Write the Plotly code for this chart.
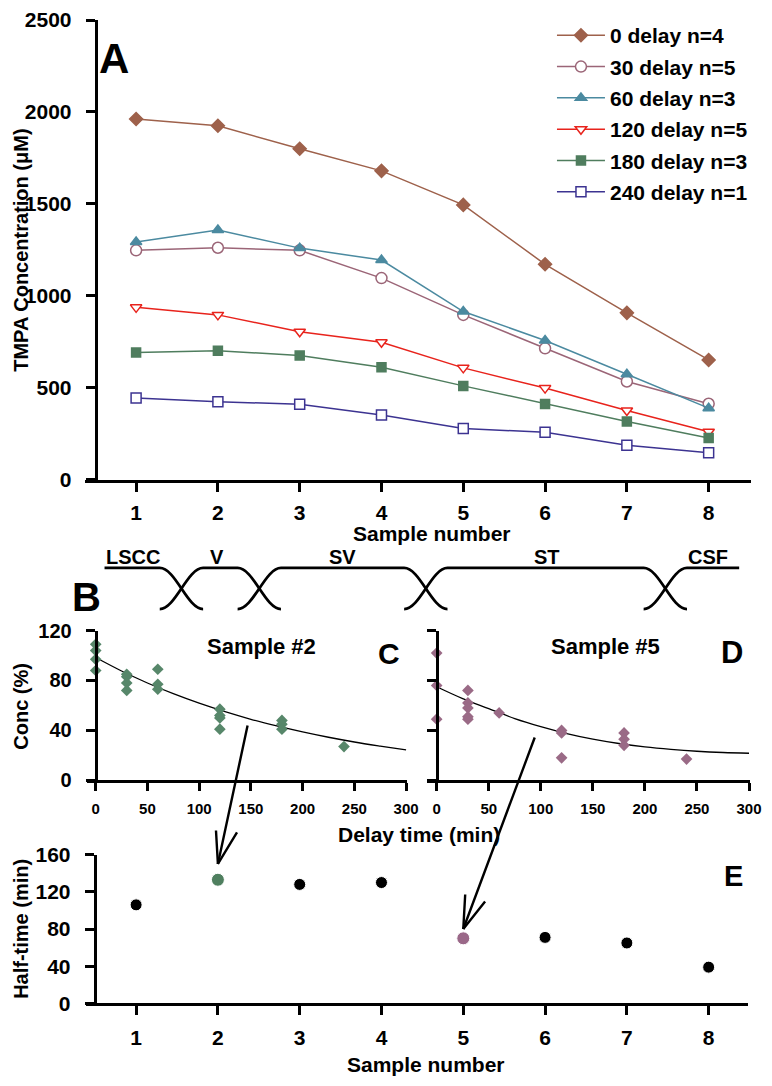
import plotly.graph_objects as go

# ---------------- data ----------------
samples = [1, 2, 3, 4, 5, 6, 7, 8]
series_names = ["0 delay n=4", "30 delay n=5", "60 delay n=3",
                "120 delay n=5", "180 delay n=3", "240 delay n=1"]
conc_0 = [1962, 1925, 1800, 1680, 1495, 1172, 908, 652]
conc_30 = [1248, 1262, 1248, 1097, 897, 715, 535, 414]
conc_60 = [1293, 1358, 1260, 1195, 915, 758, 574, 390]
conc_120 = [938, 897, 805, 748, 609, 499, 377, 262]
conc_180 = [692, 702, 676, 612, 511, 413, 318, 228]
conc_240 = [445, 425, 411, 353, 279, 259, 188, 148]

c_time = [0, 0, 0, 0, 30, 30, 30, 30, 60, 60, 60, 120, 120, 120, 120, 180, 180, 180, 240]
c_conc = [109, 104, 97, 88, 85, 83, 78, 72, 89, 77, 73, 57, 52, 50, 41, 48, 45, 41, 27]
d_time = [0, 0, 0, 30, 30, 30, 30, 30, 60, 120, 120, 120, 180, 180, 180, 240]
d_conc = [102, 76, 49, 72, 62, 58, 51, 49, 54, 40, 38, 18, 38, 33, 28, 17]

fit_time = [0, 25, 50, 75, 100, 125, 150, 175, 200, 225, 250, 275, 300]
fit_c = [98.4, 87.6, 78.0, 69.4, 61.8, 55.0, 48.9, 43.6, 38.8, 34.5, 30.7, 27.4, 24.3]
fit_d = [75.0, 65.5, 57.5, 49.5, 43.0, 37.5, 33.0, 29.5, 26.8, 24.8, 23.3, 22.3, 21.7]

half_time = [106, 133, 128, 130, 70, 71, 65, 39]

regions = ["LSCC", "V", "SV", "ST", "CSF"]
region_label_x = [0.96, 1.99, 3.52, 6.02, 7.99]
region_bounds = [1.554, 2.506, 4.542, 7.47]
region_extent = [0.614, 8.373]

# ---------------- style ----------------
W, H = 772, 1086
OFF = 8                      # page body margin of the html page
FW, FH = W - 2 * OFF, H - 2 * OFF
FONT = "Liberation Sans, Arial, sans-serif"


def fx(p):
    return (p - OFF) / FW


def fy(p):
    return 1 - (p - OFF) / FH


colors = ["#9E614B", "#9B6577", "#4B8AA0", "#E8231C", "#4F7D5E", "#3C3391"]
symbols = ["diamond", "circle", "triangle-up", "triangle-down", "square", "square"]
filled = [True, False, True, False, True, False]
sizes = [10, 11, 10, 10, 9, 10]
all_conc = [conc_0, conc_30, conc_60, conc_120, conc_180, conc_240]

fig = go.Figure()

for name, vals, col, sym, fil, sz in zip(series_names, all_conc, colors, symbols, filled, sizes):
    fig.add_trace(go.Scatter(
        x=samples, y=vals, name=name, mode="lines+markers",
        line=dict(color=col, width=1.5),
        marker=dict(symbol=sym, size=sz, color=col if fil else "white",
                    line=dict(color=col, width=1.5)),
        xaxis="x", yaxis="y", legendgroup=name,
    ))

green_d = "#57876A"
pink_d = "#9A6A86"
fig.add_trace(go.Scatter(x=fit_time, y=fit_c, mode="lines", line=dict(color="black", width=1.3, shape="spline"),
                         xaxis="x2", yaxis="y2", showlegend=False))
fig.add_trace(go.Scatter(x=c_time, y=c_conc, mode="markers",
                         marker=dict(symbol="diamond", size=9, color=green_d),
                         xaxis="x2", yaxis="y2", showlegend=False))
fig.add_trace(go.Scatter(x=fit_time, y=fit_d, mode="lines", line=dict(color="black", width=1.3, shape="spline"),
                         xaxis="x3", yaxis="y3", showlegend=False))
fig.add_trace(go.Scatter(x=d_time, y=d_conc, mode="markers",
                         marker=dict(symbol="diamond", size=9, color=pink_d),
                         xaxis="x3", yaxis="y3", showlegend=False))

e_colors = ["black"] * len(samples)
e_sizes = [12] * len(samples)
e_colors[1] = "#4F7F5F"
e_colors[4] = "#9A6888"
e_sizes[1] = 13
e_sizes[4] = 13
fig.add_trace(go.Scatter(x=samples, y=half_time, mode="markers",
                         marker=dict(symbol="circle", size=e_sizes, color=e_colors, opacity=1),
                         xaxis="x4", yaxis="y4", showlegend=False))

# ---------------- axes ----------------
tickfont = dict(family=FONT, size=21, color="black", weight="bold")
base = dict(showline=True, linewidth=3, linecolor="black", ticks="outside", ticklen=9,
            tickwidth=3, tickcolor="black", showgrid=False, zeroline=False, tickfont=tickfont)

xa_range = [1 - (138 - 86) / 83, 8 + (762 - 719) / 83]
fig.update_layout(
    xaxis=dict(base, domain=[fx(86), fx(762)], range=xa_range, anchor="y",
               tickvals=samples, ticklabelstandoff=3),
    yaxis=dict(base, domain=[fy(478), fy(8)], range=[0, 2500], anchor="free", position=fx(97),
               tickvals=[0, 500, 1000, 1500, 2000, 2500], ticklabelstandoff=10),
    xaxis2=dict(base, domain=[fx(88), fx(413)], range=[-(97 - 88) / 1.05, 301], anchor="y2",
                tickvals=[0, 50, 100, 150, 200, 250, 300], ticklen=8,
                tickfont=dict(tickfont, size=15), ticklabelstandoff=5),
    yaxis2=dict(base, domain=[fy(785), fy(632)], range=[0, 120], anchor="free", position=fx(97),
                tickvals=[0, 40, 80, 120], ticklabelstandoff=10, tickfont=dict(tickfont, size=20)),
    xaxis3=dict(base, domain=[fx(433), fx(761)], range=[-(443 - 433) / 1.0567, 301], anchor="y3",
                tickvals=[0, 50, 100, 150, 200, 250, 300], ticklen=8,
                tickfont=dict(tickfont, size=15), ticklabelstandoff=5),
    yaxis3=dict(base, domain=[fy(785), fy(632)], range=[0, 120], anchor="free", position=fx(443),
                tickvals=[0, 40, 80, 120], showticklabels=False),
    xaxis4=dict(base, domain=[fx(87), fx(759)], range=[1 - (138 - 87) / 83, 8 + (759 - 719) / 83],
                anchor="y4", tickvals=samples, ticklabelstandoff=4),
    yaxis4=dict(base, domain=[fy(1013), fy(861)], range=[0, 160], anchor="free", position=fx(96),
                tickvals=[0, 40, 80, 120, 160], ticklabelstandoff=10),
    xaxis5=dict(domain=[fx(86), fx(762)], range=xa_range, visible=False, anchor="y5"),
    yaxis5=dict(domain=[fy(620), fy(540)], range=[620, 540], visible=False, anchor="x5"),
)

# ---------------- schematic (panel B) ----------------
TOP, BOT = 568, 610
hw = 22 / 83
cw = 6 / 83
for i in range(len(regions)):
    if i == 0:
        p = f"M{region_extent[0]},{TOP}"
    else:
        b = region_bounds[i - 1]
        p = f"M{b - hw},{BOT} C{b - cw},{BOT} {b + cw},{TOP} {b + hw},{TOP}"
    if i < len(region_bounds):
        b = region_bounds[i]
        p += f" L{b - hw},{TOP} C{b - cw},{TOP} {b + cw},{BOT} {b + hw},{BOT}"
    else:
        p += f" L{region_extent[1]},{TOP}"
    fig.add_shape(type="path", path=p, xref="x5", yref="y5",
                  line=dict(color="black", width=2.8))

annotations = []


def txt(text, x, y, size, xref="paper", yref="paper", angle=0, xanchor="center"):
    annotations.append(dict(text=text, x=x, y=y, xref=xref, yref=yref, showarrow=False,
                            textangle=angle, xanchor=xanchor, yanchor="middle",
                            font=dict(family=FONT, size=size, color="black", weight="bold")))


for lab, lx in zip(regions, region_label_x):
    txt(lab, lx, 557, 20, xref="x5", yref="y5")

# titles
txt("TMPA Concentration (μM)", fx(21), fy(243), 20, angle=-90)
txt("Sample number", fx(438), fy(533), 21)
txt("Conc (%)", fx(21), fy(709), 20, angle=-90)
txt("Delay time (min)", fx(425), fy(840), 21)
txt("Half-time (min)", fx(21), fy(937), 20, angle=-90)
txt("Sample number", fx(432), fy(1075), 21)
txt("Sample #2", fx(265), fy(648), 22)
txt("Sample #5", fx(614), fy(648), 22)
# panel letters
txt("A", fx(116), fy(47), 42)
txt("B", fx(88), fy(598), 40)
txt("C", fx(395), fy(655), 30)
txt("D", fx(743), fy(654), 31)
txt("E", fx(744), fy(883), 29)

# arrows (tip in panel E data units, tail/arms in pixel offsets)
arrows = [
    dict(x=2, y=150, tail=(30, -140), arms=[(-2, -35), (20, -33)]),
    dict(x=5, y=80, tail=(72, -193), arms=[(2, -36), (23, -29)]),
]
for a in arrows:
    for (ax, ay) in [a["tail"]] + a["arms"]:
        annotations.append(dict(text="", x=a["x"], y=a["y"], xref="x4", yref="y4",
                                ax=ax, ay=ay, axref="pixel", ayref="pixel",
                                showarrow=True, arrowhead=0, arrowwidth=2.4,
                                arrowcolor="black", standoff=0, startstandoff=0))

fig.update_layout(
    width=FW, height=FH, margin=dict(l=0, r=0, t=0, b=0),
    paper_bgcolor="white", plot_bgcolor="rgba(0,0,0,0)",
    annotations=annotations,
    showlegend=True,
    legend=dict(x=fx(560), y=fy(3), xanchor="left", yanchor="top", itemwidth=48,
                bgcolor="rgba(0,0,0,0)", traceorder="grouped", tracegroupgap=1,
                font=dict(family=FONT, size=21, color="black", weight="bold")),
)

fig.write_html("out.html")
